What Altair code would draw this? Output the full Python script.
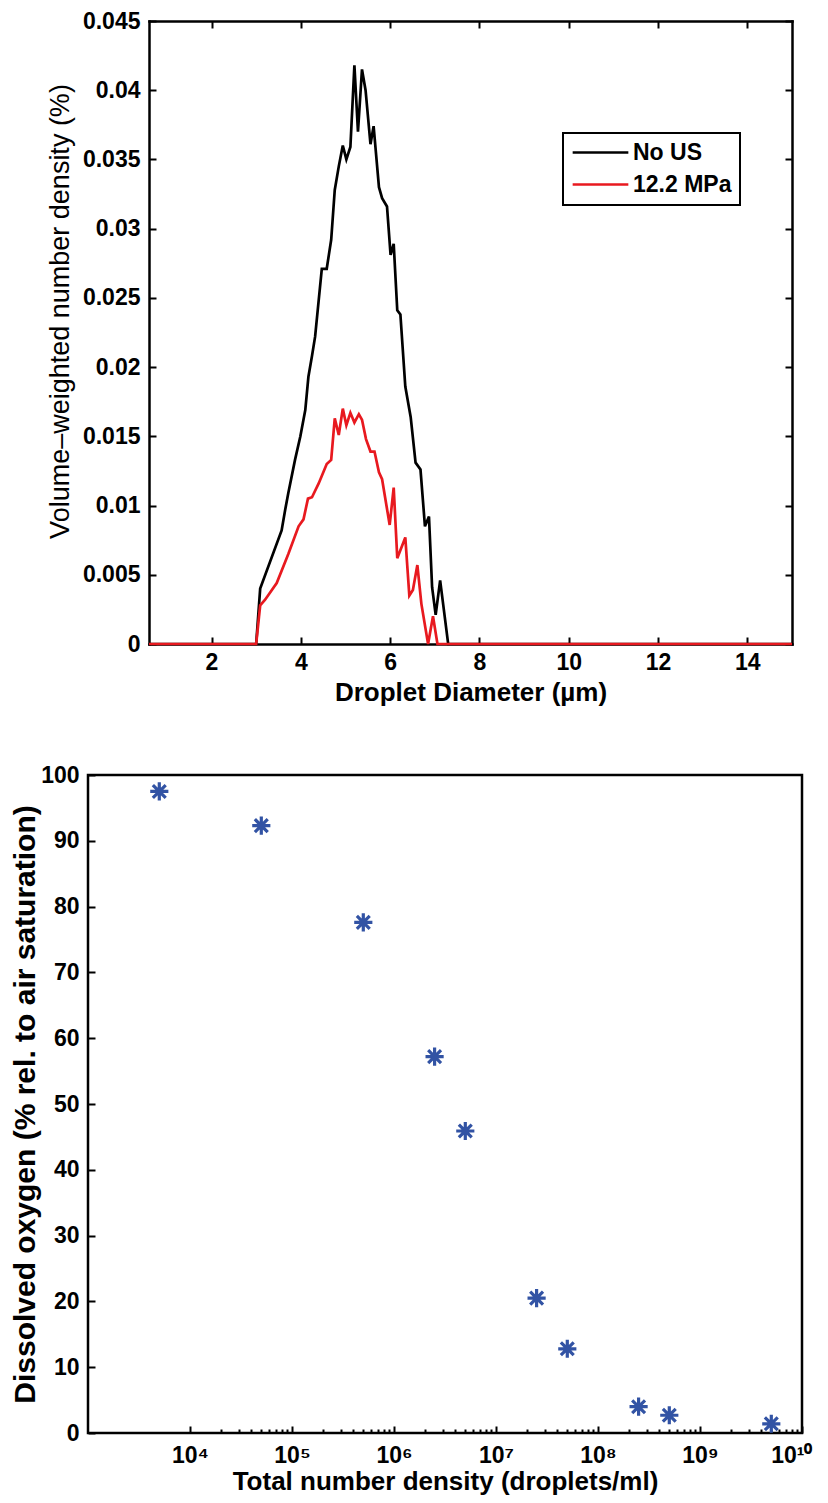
import altair as alt
import pandas as pd

# ---------------- data: top panel (droplet size distributions) ----------------
diam_nous = [0.6, 3.0, 3.09, 3.57, 3.65, 3.72, 3.87, 3.99, 4.10, 4.17, 4.25, 4.32,
             4.47, 4.58, 4.68, 4.76, 4.85, 4.94, 5.02, 5.11, 5.20, 5.28, 5.37, 5.45,
             5.56, 5.63, 5.75, 5.82, 5.93, 6.01, 6.08, 6.16, 6.23, 6.34, 6.46, 6.57,
             6.68, 6.78, 6.87, 6.94, 7.02, 7.12, 7.30, 15.0]
dens_nous = [0, 0, 0.0040, 0.0082, 0.0097, 0.0109, 0.0133, 0.0150, 0.0169, 0.0193,
             0.0208, 0.0222, 0.0271, 0.0271, 0.0292, 0.0328, 0.0345, 0.0360, 0.0350,
             0.0359, 0.0418, 0.0370, 0.0415, 0.0400, 0.0361, 0.0374, 0.0330, 0.0322,
             0.0316, 0.0281, 0.0289, 0.0241, 0.0238, 0.0186, 0.0164, 0.0131, 0.0126,
             0.0085, 0.0092, 0.0041, 0.0021, 0.0046, 0, 0]

diam_12 = [0.6, 3.0, 3.09, 3.20, 3.46, 3.72, 3.95, 4.06, 4.16, 4.25, 4.40, 4.58,
           4.68, 4.76, 4.85, 4.94, 5.02, 5.11, 5.20, 5.30, 5.37, 5.46, 5.56, 5.65,
           5.75, 5.82, 5.99, 6.08, 6.16, 6.34, 6.43, 6.51, 6.61, 6.70, 6.85, 6.96,
           7.06, 15.0]
dens_12 = [0, 0, 0.0028, 0.0032, 0.0044, 0.0065, 0.0085, 0.0090, 0.0105, 0.0106,
           0.0116, 0.0130, 0.0133, 0.0163, 0.0151, 0.0170, 0.0158, 0.0167, 0.0160,
           0.0166, 0.0162, 0.0148, 0.0139, 0.0139, 0.0124, 0.0119, 0.0086, 0.0113,
           0.0062, 0.0077, 0.0035, 0.0039, 0.0057, 0.0029, 0, 0.0020, 0, 0]

series_names = ["No US", "12.2 MPa"]
series_colors = ["#000000", "#E8191F"]

top_x_ticks = [2, 4, 6, 8, 10, 12, 14]
top_y_ticks = [0, 0.005, 0.01, 0.015, 0.02, 0.025, 0.03, 0.035, 0.04, 0.045]

# ---------------- data: bottom panel (dissolved oxygen) ----------------
number_density = [5e3, 5e4, 5e5, 2.5e6, 5e6, 2.5e7, 5e7, 2.5e8, 5e8, 5e9]
dissolved_o2 = [97.5, 92.3, 77.6, 57.2, 45.9, 20.5, 12.8, 4.0, 2.7, 1.4]

bot_x_major = [1e4, 1e5, 1e6, 1e7, 1e8, 1e9, 1e10]
bot_x_minor = [m * d for d in [1e4, 1e5, 1e6, 1e7, 1e8, 1e9] for m in range(2, 10)]
bot_y_ticks = [0, 10, 20, 30, 40, 50, 60, 70, 80, 90, 100]

FONT = "Liberation Sans"
TICK = 7
LABEL_SIZE = 23

# layout (pixels): the upper panel's view starts where the lower one does,
# and its plotting range is shifted right by TOP_SHIFT
TOP_SHIFT = 61
TOP_PLOT_W = 643
TOP_H = 623
BOT_W = 714
BOT_H = 658

df_top = pd.DataFrame({
    "d": diam_nous + diam_12,
    "v": dens_nous + dens_12,
    "s": [series_names[0]] * len(diam_nous) + [series_names[1]] * len(diam_12),
})
df_bot = pd.DataFrame({"n": number_density, "o": dissolved_o2})

xs_top = alt.Scale(domain=[0.6, 15.0], nice=False, zero=False,
                   range=[TOP_SHIFT, TOP_SHIFT + TOP_PLOT_W])
ys_top = alt.Scale(domain=[0, 0.045], nice=False, zero=False)

lines = alt.Chart(df_top).mark_line(strokeWidth=2.7).encode(
    x=alt.X("d:Q", scale=xs_top, axis=alt.Axis(
        orient="bottom", values=top_x_ticks, offset=-TICK, tickSize=TICK, domain=False,
        labelPadding=7, labelFlush=False, title="Droplet Diameter (µm)",
        titleFontSize=26, titleFontWeight="bold", titlePadding=5)),
    y=alt.Y("v:Q", scale=ys_top, axis=alt.Axis(
        orient="left", values=top_y_ticks, format=".3~f", offset=-(TOP_SHIFT + TICK),
        tickSize=TICK, domain=False, labelPadding=9,
        title="Volume–weighted number density (%)", titleY=290,
        titleFontSize=27, titleFontWeight="normal", titlePadding=8)),
    color=alt.Color("s:N", sort=series_names,
                    scale=alt.Scale(domain=series_names, range=series_colors),
                    legend=alt.Legend(orient="none", legendX=475, legendY=112, title=None,
                                      strokeColor="black", fillColor="white", padding=8,
                                      symbolType="stroke", symbolSize=3100,
                                      symbolStrokeWidth=2.7, labelFontSize=23,
                                      labelFontWeight="bold", labelFont=FONT,
                                      labelColor="black", rowPadding=8, clipHeight=23,
                                      labelOffset=3)),
)

# inward ticks on the top and right edges
mirror_top = alt.Chart(df_top).mark_point(opacity=0).encode(
    x=alt.X("d:Q", scale=xs_top, axis=alt.Axis(
        orient="top", values=top_x_ticks, offset=-TICK, tickSize=TICK, domain=False,
        labels=False, title=None)),
    y=alt.Y("v:Q", scale=ys_top, axis=alt.Axis(
        orient="right", values=top_y_ticks, offset=-TICK, tickSize=TICK, domain=False,
        labels=False, title=None)),
)

# frame of the upper panel: bottom + left edges
frame_bl = alt.Chart(df_top).mark_point(opacity=0).encode(
    x=alt.X("d:Q", scale=xs_top, axis=alt.Axis(
        orient="bottom", ticks=False, labels=False, domain=True, title=None)),
    y=alt.Y("v:Q", scale=ys_top, axis=alt.Axis(
        orient="left", offset=-TOP_SHIFT, ticks=False, labels=False, domain=True,
        title=None)),
)

# frame of the upper panel: top + right edges
frame_tr = alt.Chart(df_top).mark_point(opacity=0).encode(
    x=alt.X("d:Q", scale=xs_top, axis=alt.Axis(
        orient="top", ticks=False, labels=False, domain=True, title=None)),
    y=alt.Y("v:Q", scale=ys_top, axis=alt.Axis(
        orient="right", ticks=False, labels=False, domain=True, title=None)),
)

top = alt.layer(frame_bl, frame_tr, mirror_top, lines).resolve_axis(
    x="independent", y="independent"
).properties(width=TOP_SHIFT + TOP_PLOT_W, height=TOP_H,
             view=alt.ViewBackground(stroke="transparent"))

xs_bot = alt.Scale(type="log", domain=[1e3, 1e10], nice=False)
ys_bot = alt.Scale(domain=[0, 100], nice=False)

ASTERISK = ("M0,-1V1M-1,0H1M-0.7071,-0.7071L0.7071,0.7071"
            "M-0.7071,0.7071L0.7071,-0.7071")

points = alt.Chart(df_bot).mark_point(shape=ASTERISK, filled=False, size=330,
                                      strokeWidth=3.2, color="#3253A4", opacity=1).encode(
    x=alt.X("n:Q", scale=xs_bot, axis=alt.Axis(
        orient="bottom", values=bot_x_major, offset=-TICK, tickSize=TICK, domain=False,
        labelPadding=11, labelFlush=True, labelFlushOffset=10,
        labelExpr="'10' + ['⁰','¹','²','³','⁴','⁵','⁶','⁷','⁸','⁹','¹⁰'][round(log(datum.value)/LN10)]",
        title="Total number density (droplets/ml)", titleFontSize=26,
        titleFontWeight="bold", titlePadding=1)),
    y=alt.Y("o:Q", scale=ys_bot, axis=alt.Axis(
        orient="left", values=bot_y_ticks, offset=-TICK, tickSize=TICK, domain=False,
        labelPadding=9, title="Dissolved oxygen (% rel. to air saturation)",
        titleFontSize=30, titleFontWeight="bold", titlePadding=0)),
)

minor_bot = alt.Chart(df_bot).mark_point(opacity=0).encode(
    x=alt.X("n:Q", scale=xs_bot, axis=alt.Axis(
        orient="bottom", values=bot_x_minor, offset=-4, tickSize=4, domain=False,
        labels=False, title=None)),
    y=alt.Y("o:Q", scale=ys_bot, axis=None),
)

bottom = alt.layer(points, minor_bot).resolve_axis(
    x="independent", y="independent").properties(width=BOT_W, height=BOT_H)

chart = alt.vconcat(top, bottom, spacing=55).resolve_scale(
    color="independent"
).properties(
    padding={"left": 1, "top": 0, "right": 0, "bottom": 0},
    background="white",
).configure_view(
    stroke="black", strokeWidth=2.5
).configure_axis(
    labelFont=FONT, labelFontSize=LABEL_SIZE, labelFontWeight="bold", labelColor="black",
    titleFont=FONT, titleColor="black", tickColor="black", tickWidth=2, grid=False,
    domainColor="black", domainWidth=2.5, domainCap="square",
).configure_legend(
    strokeWidth=2
)

chart.save("out.html", embed_options={"renderer": "svg", "actions": False})
